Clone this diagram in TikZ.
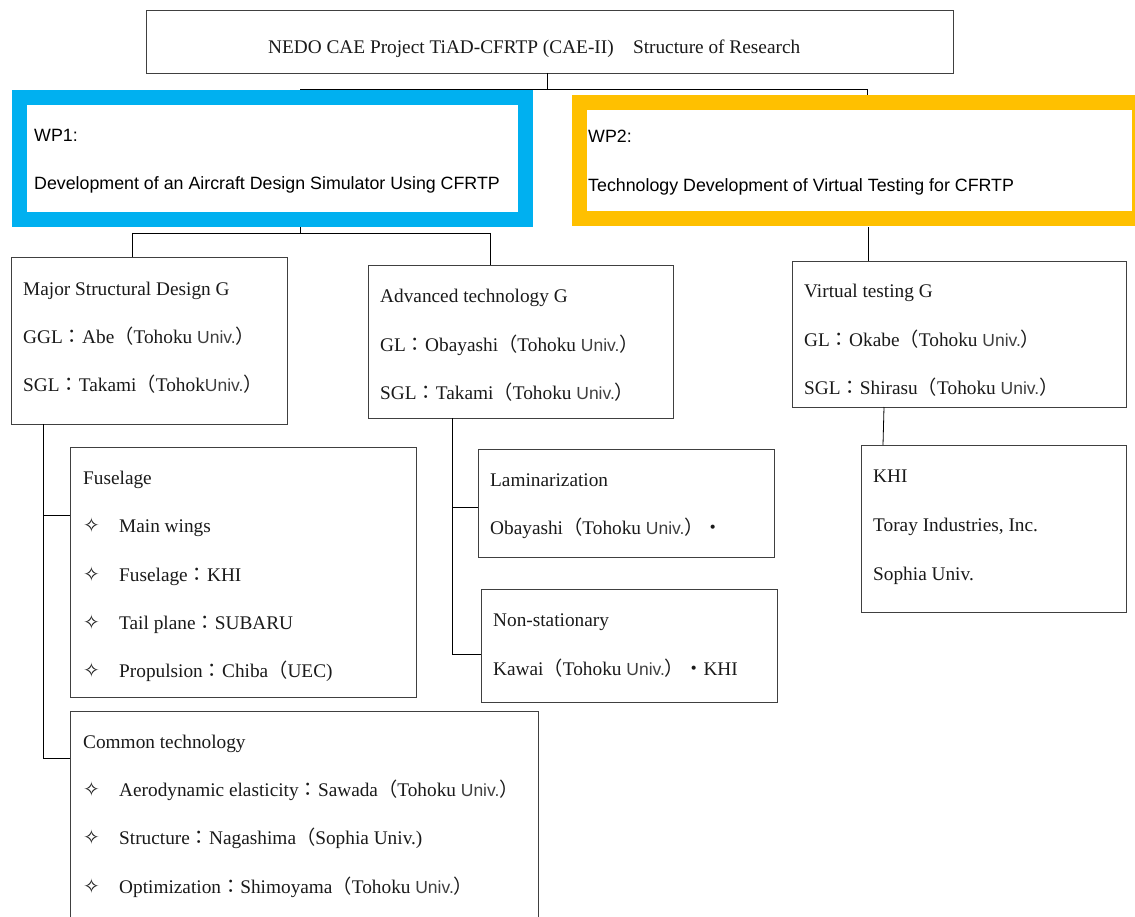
\documentclass[tikz,border=0pt]{standalone}
\usepackage{fontspec}
\setmainfont{Liberation Serif}
\setsansfont{Liberation Sans}
\newfontfamily\cjkf{Noto Sans CJK JP}
\newfontfamily\symf{DejaVu Sans}
\usetikzlibrary{fit}
\definecolor{wpblue}{HTML}{00B0F0}
\definecolor{wporange}{HTML}{FFC000}
\definecolor{txtgray}{HTML}{1A1A1A}
\definecolor{univgray}{HTML}{404040}
\definecolor{boxgray}{HTML}{404040}
\newcommand\jcol{{\cjkf ：}}
\newcommand\jlp{{\cjkf （}}
\newcommand\jrp{{\cjkf ）}}
\newcommand\jdot{{\cjkf ・}}
\newcommand\jsp{{\cjkf 　}}
\newcommand\univ{{\sffamily\fontsize{17.5}{20}\selectfont\color{univgray}Univ.}}
\newcommand\bul{\makebox[36pt][l]{\symf\fontsize{20}{20}\selectfont ✧}}
\tikzset{
  box/.style={draw=boxgray, line width=0.8pt, inner sep=0pt, fill=white},
  wpbox/.style={line width=15pt},
  txt/.style={anchor=base west, inner sep=0pt, text=txtgray, font=\fontsize{19.3}{22}\selectfont},
  wptxt/.style={anchor=base west, inner sep=0pt, text=black, font=\sffamily\fontsize{17.8}{20}\selectfont},
  link/.style={draw=black, line width=0.8pt}
}
\begin{document}
\begin{tikzpicture}[x=1pt,y=-1pt]
\useasboundingbox (0,0) rectangle (1135,917);
\clip (0,0) rectangle (1135,917);
% boxes
\node[box, fit={(146,10) (953,73)}] (title) {};
\node[fit={(12,90) (533,227)}, inner sep=0pt] (wp1) {};
\draw[wpbox, draw=wpblue] (19.5,97.5) rectangle (525.5,219.5);
\node[fit={(571,95) (1147,227)}, inner sep=0pt] (wp2) {};
\draw[wpbox, draw=wporange] (579,103) rectangle (1139,219);
\node[box, fit={(11,257) (287,424)}] (major) {};
\node[box, fit={(368,265) (673,418)}] (adv) {};
\node[box, fit={(792,261) (1126,407)}] (virt) {};
\node[box, fit={(861,445) (1126,612)}] (khi) {};
\node[box, fit={(70,447) (416,697)}] (fus) {};
\node[box, fit={(70,711) (538,925)}] (com) {};
\node[box, fit={(478,449) (774,557)}] (lam) {};
\node[box, fit={(481,589) (777,702)}] (non) {};
% connectors
\coordinate (t1) at (547,89);
\coordinate (tl) at (300,89);
\coordinate (tr) at (867,89);
\draw[link] (547,73) -- (t1);
\draw[link] (tl) -- (tr) -- (tr |- wp2.north);
\coordinate (w1) at (300,233);
\draw[link] (w1 |- wp1.south) -- (w1);
\draw[link] (132,233) -- (490,233);
\draw[link] (132,233) -- (132,257);
\draw[link] (490,233) -- (490,265);
\draw[link] (868,227) -- (868,261);
\draw[link] (884,407) -- (883,445);
\coordinate (m1) at (43,515);
\coordinate (m2) at (43,758);
\draw[link] (43,424) -- (m2) -- (m2 -| com.west);
\draw[link] (m1) -- (m1 -| fus.west);
\coordinate (a1) at (452,507);
\coordinate (a2) at (452,654);
\draw[link] (452,418) -- (a2) -- (a2 -| non.west);
\draw[link] (a1) -- (a1 -| lam.west);
% texts
\node[txt] (tt) at (268,54) {NEDO CAE Project TiAD-CFRTP (CAE-II)\jsp Structure of Research};
\node[wptxt] (wp1a) at (34,142) {WP1:};
\node[wptxt] (wp1b) at (34,190) {Development of an Aircraft Design Simulator Using CFRTP};
\node[wptxt] (wp2a) at (588,143) {WP2:};
\node[wptxt] (wp2b) at (588,192) {Technology Development of Virtual Testing for CFRTP};
\node[txt] (ma) at (23,295) {Major Structural Design G};
\node[txt] (mb) at (23,343) {GGL\jcol Abe\jlp Tohoku \univ\jrp};
\node[txt] (mc) at (23,391) {SGL\jcol Takami\jlp Tohok\univ\jrp};
\node[txt] (aa) at (380,303) {Advanced technology G};
\node[txt] (ab) at (380,351) {GL\jcol Obayashi\jlp Tohoku \univ\jrp};
\node[txt] (ac) at (380,399) {SGL\jcol Takami\jlp Tohoku \univ\jrp};
\node[txt] (va) at (804,298) {Virtual testing G};
\node[txt] (vb) at (804,346) {GL\jcol Okabe\jlp Tohoku \univ\jrp};
\node[txt] (vc) at (804,394) {SGL\jcol Shirasu\jlp Tohoku \univ\jrp};
\node[txt] (ka) at (873,482) {KHI};
\node[txt] (kb) at (873,531) {Toray Industries, Inc.};
\node[txt] (kc) at (873,580) {Sophia Univ.};
\node[txt] (fa) at (83,484) {Fuselage};
\node[txt] (fb) at (83,532) {\bul Main wings};
\node[txt] (fc) at (83,581) {\bul Fuselage\jcol KHI};
\node[txt] (fd) at (83,629) {\bul Tail plane\jcol SUBARU};
\node[txt] (fe) at (83,677) {\bul Propulsion\jcol Chiba\jlp UEC)};
\node[txt] (ca) at (83,748) {Common technology};
\node[txt] (cb) at (83,796) {\bul Aerodynamic elasticity\jcol Sawada\jlp Tohoku \univ\jrp};
\node[txt] (cc) at (83,844) {\bul Structure\jcol Nagashima\jlp Sophia Univ.)};
\node[txt] (cd) at (83,893) {\bul Optimization\jcol Shimoyama\jlp Tohoku \univ\jrp};
\node[txt] (la) at (490,486) {Laminarization};
\node[txt] (lb) at (490,534) {Obayashi\jlp Tohoku \univ\jrp\jdot};
\node[txt] (na) at (493,626) {Non-stationary};
\node[txt] (nb) at (493,675) {Kawai\jlp Tohoku \univ\jrp\jdot KHI};
\end{tikzpicture}
\end{document}
